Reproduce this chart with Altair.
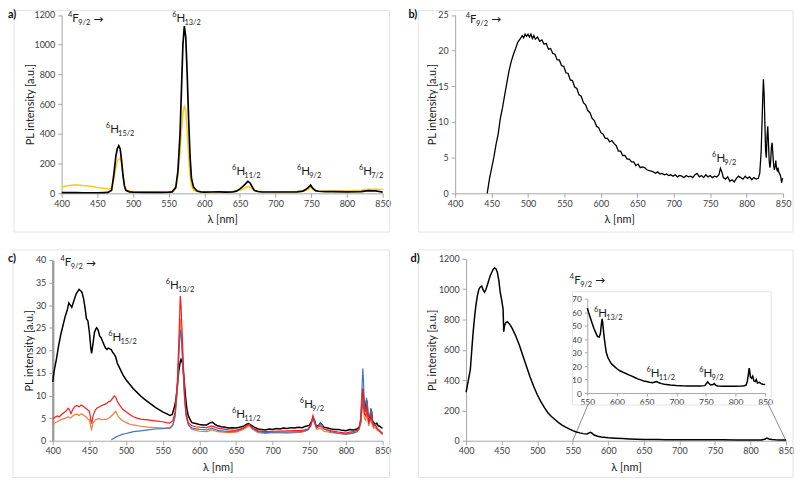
import altair as alt
import pandas as pd

# ------------------------------------------------------------------ data
x_ticks = [400, 450, 500, 550, 600, 650, 700, 750, 800, 850]
inset_x_ticks = [550, 600, 650, 700, 750, 800, 850]

# panel a : (wavelength nm, PL intensity)
a_black = [(400,5),(410,5),(420,5),(430,4),(440,4),(450,4),(460,5),(465,6),(470,20),(473,120),(476,250),
           (478,300),(480,320),(482,300),(484,220),(486,120),(488,50),(490,20),(495,10),(500,8),(520,7),
           (540,7),(550,8),(555,10),(560,40),(563,150),(566,400),(568,700),(570,1000),(572,1125),(574,1050),
           (576,800),(578,500),(580,250),(582,100),(585,40),(590,15),(595,10),(600,8),(610,9),(620,10),
           (630,8),(640,10),(645,15),(650,30),(655,50),(658,65),(661,80),(664,70),(667,45),(670,20),(675,12),
           (680,10),(700,9),(720,9),(730,10),(738,15),(742,25),(746,40),(749,55),(752,35),(756,18),(760,14),
           (770,12),(780,11),(800,10),(820,12),(825,15),(830,18),(835,17),(840,16),(845,12),(850,8)]
a_yellow = [(400,40),(405,48),(410,52),(415,55),(420,57),(425,55),(430,52),(440,48),(450,40),(460,33),
            (465,30),(470,30),(473,90),(476,170),(478,215),(480,230),(482,235),(484,200),(486,120),(488,50),
            (490,25),(495,15),(500,12),(520,10),(540,9),(550,10),(555,12),(560,30),(563,120),(566,280),
            (568,420),(570,540),(572,585),(574,560),(576,420),(578,250),(580,120),(582,50),(585,20),(590,12),
            (600,9),(620,10),(640,12),(650,20),(655,30),(660,42),(663,45),(666,35),(670,18),(680,12),(700,11),
            (720,11),(740,14),(745,25),(749,42),(752,28),(756,15),(760,14),(780,15),(800,17),(820,20),(825,25),
            (830,28),(840,28),(850,26)]

# panel b
b_black = [(444,0),(447,2),(450,3.5),(453,5),(456,6.8),(459,8.3),(462,10.5),(465,12),(468,13.8),(471,15.5),
           (474,17.2),(477,18.5),(480,19.5),(483,20.3),(486,21.2),(489,21.6),(492,22.1),(494,21.8),(496,22.3),
           (498,22.0),(500,22.3),(502,21.9),(504,22.3),(506,21.7),(508,22.1),(510,21.6),(513,21.9),(516,21.3),
           (519,21.5),(522,20.9),(525,21.0),(528,20.2),(531,20.3),(534,19.6),(537,19.5),(540,18.7),(543,18.7),
           (546,17.9),(549,17.8),(552,16.9),(555,16.8),(558,15.9),(561,15.8),(564,14.9),(567,14.7),(570,13.8),
           (573,13.6),(576,12.7),(579,12.4),(582,11.6),(585,11.3),(588,10.5),(591,10.2),(594,9.4),(597,9.2),
           (600,8.5),(603,8.3),(606,7.7),(609,7.7),(612,7.2),(615,7.4),(618,7.0),(621,6.7),(624,5.9),(627,5.9),
           (630,5.3),(633,5.3),(636,4.8),(639,4.8),(642,4.4),(645,4.4),(648,3.9),(651,4.1),(654,3.6),(657,3.7),
           (660,3.6),(663,3.3),(666,3.2),(669,3.1),(672,3.0),(675,2.8),(678,3.0),(681,2.7),(684,2.8),(687,2.6),
           (690,2.7),(693,2.5),(696,2.6),(699,2.4),(702,2.6),(705,2.3),(708,2.5),(711,2.4),(714,2.2),(717,2.5),
           (720,2.3),(723,2.4),(726,2.2),(729,2.6),(732,2.8),(735,2.3),(738,2.5),(741,2.2),(744,2.6),(747,2.3),
           (750,2.5),(753,2.2),(756,2.4),(759,2.3),(762,2.6),(764,3.5),(766,3.0),(768,2.2),(771,2.0),(774,2.3),
           (777,1.7),(780,1.9),(783,1.6),(786,2.1),(789,2.4),(792,2.2),(795,2.0),(798,2.4),(801,2.1),(804,2.3),
           (807,1.9),(810,2.2),(813,2.0),(816,2.1),(818,2.8),(820,6),(822,13),(823,16),(824,14),(825,10),(826,6),
           (827,5),(828,8),(829,9.4),(830,7),(831,4.5),(832,3.6),(833,4.5),(834,6.5),(835,7.1),(836,5.5),(837,4),
           (838,3.3),(839,3.8),(840,4.6),(841,3.5),(842,3.2),(843,3.6),(844,3.0),(845,2.8),(846,2.6),(847,2.2),
           (848,1.5),(849,2.0),(850,2.1)]

# panel c
c_black = [(400,13),(402,15.5),(405,18),(408,21),(411,23.5),(414,25.5),(417,27.5),(420,29),(422,30.5),(424,30),
           (426,29.5),(428,30.5),(430,31.5),(432,32.5),(434,33),(436,33.5),(438,33.2),(440,32.8),(442,31.5),
           (444,29.5),(446,27),(448,26.5),(450,24),(452,20.5),(453,19.3),(455,21.5),(457,24),(459,24.8),(460,25),
           (462,24.5),(464,23.2),(466,22.8),(468,22),(470,21.2),(472,20.5),(474,20.2),(476,20.5),(478,20.3),
           (480,20.1),(482,19.5),(484,19.1),(486,18.5),(488,17.2),(490,16.5),(493,15.5),(496,14.5),(500,13.5),
           (505,12.5),(510,11.5),(515,10.7),(520,9.9),(525,9.2),(530,8.6),(535,8.0),(540,7.4),(545,6.9),(550,6.4),
           (555,6.0),(560,5.6),(563,5.8),(566,7.5),(568,9),(570,12),(572,15.5),(574,17.5),(575,18),(577,17.2),
           (579,14),(581,10),(583,7),(585,5.5),(588,4.5),(590,4.0),(595,3.8),(600,3.6),(605,3.5),(610,3.5),
           (615,4.0),(618,4.1),(621,3.7),(625,3.3),(630,3.1),(635,3.0),(640,2.8),(645,2.9),(650,2.8),(655,3.0),
           (660,3.2),(664,3.6),(667,3.8),(670,3.5),(675,3.0),(680,2.6),(685,2.5),(690,2.4),(695,2.6),(700,2.5),
           (705,2.7),(710,2.6),(715,2.8),(720,2.7),(725,2.9),(730,2.8),(735,3.0),(740,2.9),(745,3.2),(750,3.4),
           (753,4.2),(755,5.0),(757,4.5),(759,3.4),(762,3.2),(765,3.9),(767,3.6),(770,3.0),(775,2.8),(780,2.6),
           (785,2.5),(790,2.5),(795,2.3),(800,2.2),(805,2.5),(810,2.4),(815,2.6),(818,3.0),(820,4.0),(822,8),
           (823,11.5),(824,10),(825,7),(826,6.5),(828,9),(829,8),(830,5),(832,4.5),(834,6.8),(835,6.5),(836,4.5),
           (838,4.0),(840,3.6),(842,3.9),(844,3.3),(846,3.2),(848,2.9),(850,2.8)]
c_red = [(400,4.8),(403,5.2),(406,5.5),(409,5.3),(412,5.8),(415,6.2),(418,6.5),(421,7.2),(423,6.8),(425,6.0),
         (427,6.8),(430,7.6),(433,7.8),(436,7.5),(439,7.9),(442,7.6),(445,7.2),(448,6.8),(450,6.5),(452,4.6),
         (453,3.8),(455,5.5),(458,6.8),(461,7.3),(464,7.5),(467,7.8),(470,8.0),(473,8.2),(476,8.6),(479,8.8),
         (482,9.5),(484,9.9),(486,9.6),(488,8.8),(490,8.2),(493,7.5),(496,6.9),(500,6.4),(505,5.8),(510,5.3),
         (515,5.0),(520,4.8),(530,4.6),(540,4.4),(550,4.2),(555,4.0),(560,3.9),(564,4.5),(567,6.5),(570,13),
         (572,22),(574,32),(575,30),(576,26),(578,18),(580,10),(582,6),(585,4),(590,3.3),(595,3.1),(600,3.0),
         (610,2.9),(617,3.3),(625,2.8),(640,2.4),(650,2.3),(660,2.8),(665,3.4),(668,3.6),(672,3.0),(680,2.2),
         (690,2.0),(700,2.1),(720,2.2),(740,2.3),(748,2.6),(752,3.5),(755,5.6),(757,4.5),(760,3.0),(765,3.3),
         (770,2.6),(780,2.2),(790,1.9),(800,1.7),(805,1.9),(810,2.0),(815,2.3),(818,2.8),(820,4.5),(822,9),
         (823,11.5),(824,9),(825,6),(827,5.5),(828,8),(829,7),(831,4),(833,4.5),(834,6),(836,4),(838,3.2),
         (840,3.5),(843,2.6),(846,2.2),(848,1.8),(850,1.5)]
c_orange = [(400,3.5),(403,4.0),(406,4.2),(409,4.5),(412,4.7),(415,4.9),(418,5.0),(421,5.3),(424,5.0),(427,5.4),
            (430,5.8),(433,5.9),(436,5.6),(439,6.0),(442,5.7),(445,5.3),(448,4.8),(450,4.6),(452,3.0),(453,2.5),
            (455,4.0),(458,4.6),(461,4.8),(464,4.9),(467,4.6),(470,4.8),(473,4.7),(476,5.0),(479,5.3),(482,5.8),
            (484,6.2),(486,6.5),(488,5.8),(490,5.2),(494,4.6),(498,4.2),(502,3.9),(506,3.6),(510,3.5),(520,3.2),
            (530,3.0),(540,2.9),(550,2.8),(560,2.7),(564,3.5),(567,5.5),(570,11),(572,19),(574,27),(575,25),
            (576,22),(578,16),(580,9),(582,5.5),(585,3.5),(590,2.5),(600,2.1),(610,2.0),(617,2.4),(625,2.0),
            (640,1.8),(650,1.9),(660,2.5),(665,3.0),(668,3.3),(672,2.6),(680,1.8),(690,1.6),(700,1.8),(720,1.7),
            (740,1.9),(748,2.3),(752,3.2),(755,5.0),(757,4.0),(760,2.5),(765,2.8),(770,2.1),(780,1.8),(790,1.6),
            (800,1.5),(810,1.8),(815,2.0),(818,2.5),(820,4.0),(822,8),(823,10),(824,8),(825,5),(827,4.5),(828,6.5),
            (829,5.5),(831,3.3),(834,5),(836,3.3),(838,2.8),(840,3.0),(843,2.3),(846,2.0),(848,1.6),(850,1.4)]
c_blue = [(480,0.2),(483,0.5),(486,0.8),(490,1.1),(495,1.4),(500,1.6),(505,1.8),(510,2.0),(520,2.2),(530,2.4),
          (540,2.6),(550,2.7),(560,2.9),(564,3.5),(567,5.5),(570,12),(572,19),(574,24.5),(575,24),(576,21),
          (578,15),(580,9),(582,5.5),(585,3.6),(590,2.8),(600,2.5),(610,2.4),(617,2.8),(625,2.3),(640,2.0),
          (650,2.1),(660,2.7),(665,3.3),(668,3.6),(672,2.8),(680,2.0),(690,1.8),(700,1.9),(720,1.9),(740,2.0),
          (748,2.4),(752,3.4),(755,5.0),(757,4.0),(760,2.8),(765,3.8),(767,3.5),(770,2.6),(780,2.0),(790,1.6),
          (800,1.4),(810,1.7),(815,2.0),(818,2.8),(820,5),(822,12),(823,16),(824,13),(825,7),(827,6.5),
          (828,9.5),(829,8.5),(831,4.5),(833,5),(834,7.2),(836,4.5),(838,3.4),(840,3.6),(843,2.6),(846,2.3),
          (848,1.9),(850,1.8)]

# panel d
d_black = [(400,320),(402,370),(404,420),(406,470),(408,600),(410,720),(412,820),(414,900),(416,960),(418,1000),
           (420,1015),(422,1020),(424,995),(426,980),(428,1000),(430,1030),(432,1060),(434,1090),(436,1110),
           (438,1130),(440,1140),(442,1135),(444,1110),(446,1060),(448,980),(450,930),(452,870),(453,720),
           (454,760),(456,780),(458,785),(460,775),(462,765),(465,740),(468,710),(470,690),(475,630),(480,560),
           (485,490),(490,420),(495,360),(500,305),(505,260),(510,220),(515,185),(520,160),(525,140),(530,120),
           (535,103),(540,90),(545,78),(550,67),(555,58),(560,52),(565,47),(570,45),(573,52),(575,55),(577,50),
           (580,38),(585,30),(590,25),(600,20),(610,17),(620,15),(630,12),(640,10),(650,9),(660,8),(670,8),
           (680,7),(700,6),(720,6),(740,6),(760,6),(780,5),(800,5),(815,5),(820,10),(823,18),(826,12),(830,8),
           (835,6),(840,5),(850,5)]
d_inset = [(550,63),(552,60),(555,56),(558,52),(561,48),(564,45),(567,42),(570,41.5),(572,44),(574,52),(575,55),
           (576,52),(578,43),(580,36),(582,30),(585,26),(590,22),(595,20),(600,18),(605,16.5),(610,15.5),(615,14.5),
           (620,13.5),(625,12.5),(630,11.5),(635,10.5),(640,9.8),(645,9.0),(650,8.5),(655,8.0),(660,7.6),(664,8.2),
           (667,8.6),(670,7.8),(675,7.0),(680,6.5),(690,6.0),(700,5.6),(710,5.4),(720,5.3),(730,5.2),(740,5.2),
           (748,5.5),(751,7.0),(753,8.3),(755,7.2),(758,6.0),(762,6.3),(764,7.0),(767,5.7),(770,5.2),(780,5.0),
           (790,5.1),(800,5.0),(810,5.2),(815,5.4),(818,6.0),(820,9),(822,15),(823,18.5),(824,16),(825,12),(827,11),
           (829,12.5),(831,9),(833,8.5),(835,10),(837,7.5),(840,8),(843,7),(846,6.5),(850,6.3)]

# ------------------------------------------------------------------ style
FONT = "Lato"
AXC = "#a6a6a6"
LBLC = "#404040"
ONE = pd.DataFrame({"k": [0]})


def x_axis(values=x_ticks, title="λ [nm]", **kw):
    base = dict(values=values, title=title, grid=False, domainColor=AXC, tickColor=AXC, tickSize=4,
                labelFontSize=9, labelColor=LBLC, titleFontSize=11, titleFontWeight="normal",
                titleColor="#1a1a1a", labelPadding=2, titlePadding=5, labelFlush=False, labelOverlap=False,
                format="d")
    base.update(kw)
    return alt.Axis(**base)


def y_axis(values, extent, title="PL intensity [a.u.]", **kw):
    base = dict(values=values, title=title, grid=False, domainColor=AXC, tickColor=AXC, tickSize=4,
                labelFontSize=9, labelColor=LBLC, titleFontSize=11, titleFontWeight="normal",
                titleColor="#1a1a1a", labelPadding=3, titlePadding=2, labelFlush=False, labelOverlap=False,
                format="d", minExtent=extent, maxExtent=extent)
    base.update(kw)
    return alt.Axis(**base)


def encs(xs, ys, xa, ya):
    return dict(x=alt.X("wl:Q", scale=xs, axis=xa), y=alt.Y("v:Q", scale=ys, axis=ya))


def line(points, color, enc, width=1.4):
    df = pd.DataFrame(points, columns=["wl", "v"])
    return alt.Chart(df).mark_line(color=color, strokeWidth=width).encode(**enc)


def note(enc, wl, v, sup, main, sub, arrow=False):
    df = pd.DataFrame({"wl": [wl], "v": [v]})
    b = alt.Chart(df)
    mw = 8.0 if main == "H" else 6.0
    out = [
        b.mark_text(text=sup, align="right", baseline="alphabetic", dy=-5, fontSize=7.5, color="#1a1a1a", font=FONT).encode(**enc),
        b.mark_text(text=main, align="left", baseline="alphabetic", fontSize=11.5, color="#1a1a1a", font=FONT).encode(**enc),
        b.mark_text(text=sub, align="left", baseline="alphabetic", dx=mw, dy=3, fontSize=7.5, color="#1a1a1a", font=FONT).encode(**enc),
    ]
    if arrow:
        out.append(b.mark_text(text="→", align="left", baseline="alphabetic", dx=mw + 15, dy=0.5,
                               fontSize=12, color="#1a1a1a", font="DejaVu Sans").encode(**enc))
    return out


def frame(x1, x2, y1, y2):
    return alt.Chart(ONE).mark_rect(fill="white", fillOpacity=0, stroke="#e4e4e4", strokeWidth=1).encode(
        x=alt.value(x1), x2=alt.value(x2), y=alt.value(y1), y2=alt.value(y2))


def tag(text, x, y):
    return alt.Chart(ONE).mark_text(text=text, align="left", baseline="alphabetic", fontSize=11,
                                    fontWeight="bold", font=FONT, color="#111").encode(x=alt.value(x), y=alt.value(y))


# view boxes (flush grid): left column views start at x=53, right column at x=458;
# top row views start at y=8 (height 184), bottom row at y=258 (height 183)
LW, RW, TH, BH = 332, 333, 184, 183
TOP = 4.5

# ------------------------------------------------------------------ panel a
ea = encs(alt.Scale(domain=[400, 850], range=[9, LW], nice=False, zero=False),
          alt.Scale(domain=[0, 1200], range=[TH, TOP], nice=False),
          x_axis(),
          y_axis(list(range(0, 1201, 200)), 24, titlePadding=2, offset=-9))
panel_a = alt.layer(
    frame(-39, 339, 0, 223),
    line(a_yellow, "#ffc90e", ea, 1.5),
    line(a_black, "#000000", ea, 1.7),
    *note(ea, 415, 1150, "4", "F", "9/2", arrow=True),
    *note(ea, 561, 1150, "6", "H", "13/2"),
    *note(ea, 468, 405, "6", "H", "15/2"),
    *note(ea, 645, 122, "6", "H", "11/2"),
    *note(ea, 736, 122, "6", "H", "9/2"),
    *note(ea, 823, 122, "6", "H", "7/2"),
    tag("a)", -45, 8),
).properties(width=LW, height=TH)

# ------------------------------------------------------------------ panel b
eb = encs(alt.Scale(domain=[400, 850], range=[0, 330], nice=False, zero=False),
          alt.Scale(domain=[0, 25], range=[TH, TOP], nice=False),
          x_axis(),
          y_axis(list(range(0, 26, 5)), 15, titlePadding=2.5))
panel_b = alt.layer(
    frame(-37, 340, 0, 223),
    line(b_black, "#000000", eb, 1.3),
    *note(eb, 420.5, 23.9, "4", "F", "9/2", arrow=True),
    *note(eb, 758.5, 4.4, "6", "H", "9/2"),
    tag("b)", -47, 8),
).properties(width=RW, height=TH)

# ------------------------------------------------------------------ panel c
ec = encs(alt.Scale(domain=[400, 850], range=[0, LW], nice=False, zero=False),
          alt.Scale(domain=[0, 40], range=[BH, 1], nice=False),
          x_axis(titlePadding=6),
          y_axis(list(range(0, 41, 5)), 16, domainWidth=2.5, domainColor="#a0a0a0", titlePadding=2.5))
panel_c = alt.layer(
    frame(-40, 339, -9, 220),
    line(c_black, "#000000", ec, 1.5),
    line(c_orange, "#f07838", ec, 1.2),
    line(c_blue, "#4472c4", ec, 1.2),
    line(c_red, "#ff1a1a", ec, 1.2),
    *note(ec, 416.5, 38.6, "4", "F", "9/2", arrow=True),
    *note(ec, 560, 33.6, "6", "H", "13/2"),
    *note(ec, 481.5, 22.0, "6", "H", "15/2"),
    *note(ec, 650.5, 5.0, "6", "H", "11/2"),
    *note(ec, 743, 7.3, "6", "H", "9/2"),
    tag("c)", -45, 3),
).properties(width=LW, height=BH)

# ------------------------------------------------------------------ panel d (main + inset)
ed = encs(alt.Scale(domain=[400, 850], range=[11, RW], nice=False, zero=False),
          alt.Scale(domain=[0, 1200], range=[BH, 0], nice=False),
          x_axis(titlePadding=6),
          y_axis(list(range(0, 1201, 200)), 24, titlePadding=4.5, offset=-11))
zoom_left = alt.Chart(pd.DataFrame({"wl": [550], "v": [0]})).mark_rule(color="#8c8c8c", strokeWidth=1).encode(
    **ed, x2=alt.value(134), y2=alt.value(146))
zoom_right = alt.Chart(pd.DataFrame({"wl": [850], "v": [0]})).mark_rule(color="#8c8c8c", strokeWidth=1).encode(
    **ed, x2=alt.value(315), y2=alt.value(146))
d_main = alt.layer(
    frame(-37, 340, -9, 220),
    frame(118, 318, 33, 147),
    zoom_left,
    zoom_right,
    line(d_black, "#000000", ed, 1.5),
    *note(ed, 552, 1036, "4", "F", "9/2", arrow=True),
    tag("d)", -45, 3),
)

ei = encs(alt.Scale(domain=[550, 850], range=[133, 312], nice=False, zero=False),
          alt.Scale(domain=[0, 70], range=[135, 40], nice=False, zero=False),
          x_axis(values=inset_x_ticks, title=None, orient="bottom", offset=-48, tickSize=3, labelFontSize=8.5),
          y_axis(list(range(0, 71, 10)), 0, title=None, orient="left", offset=-133, tickSize=3, labelFontSize=8.5))
d_inset_layer = alt.layer(
    line(d_inset, "#000000", ei, 1.5),
    *note(ei, 568.5, 56.5, "6", "H", "13/2"),
    *note(ei, 657, 11.8, "6", "H", "11/2"),
    *note(ei, 746, 11.8, "6", "H", "9/2"),
)

panel_d = alt.layer(d_main, d_inset_layer).resolve_scale(x="independent", y="independent").properties(
    width=RW, height=BH)

chart = alt.concat(panel_a, panel_b, panel_c, panel_d, columns=2, bounds="flush",
                   spacing={"row": 66, "column": 73}).properties(padding=0).configure_view(
    stroke=None).configure_axis(labelFont=FONT, titleFont=FONT).configure_text(font=FONT)

chart.save("out.html", embed_options={"renderer": "svg", "actions": False})
